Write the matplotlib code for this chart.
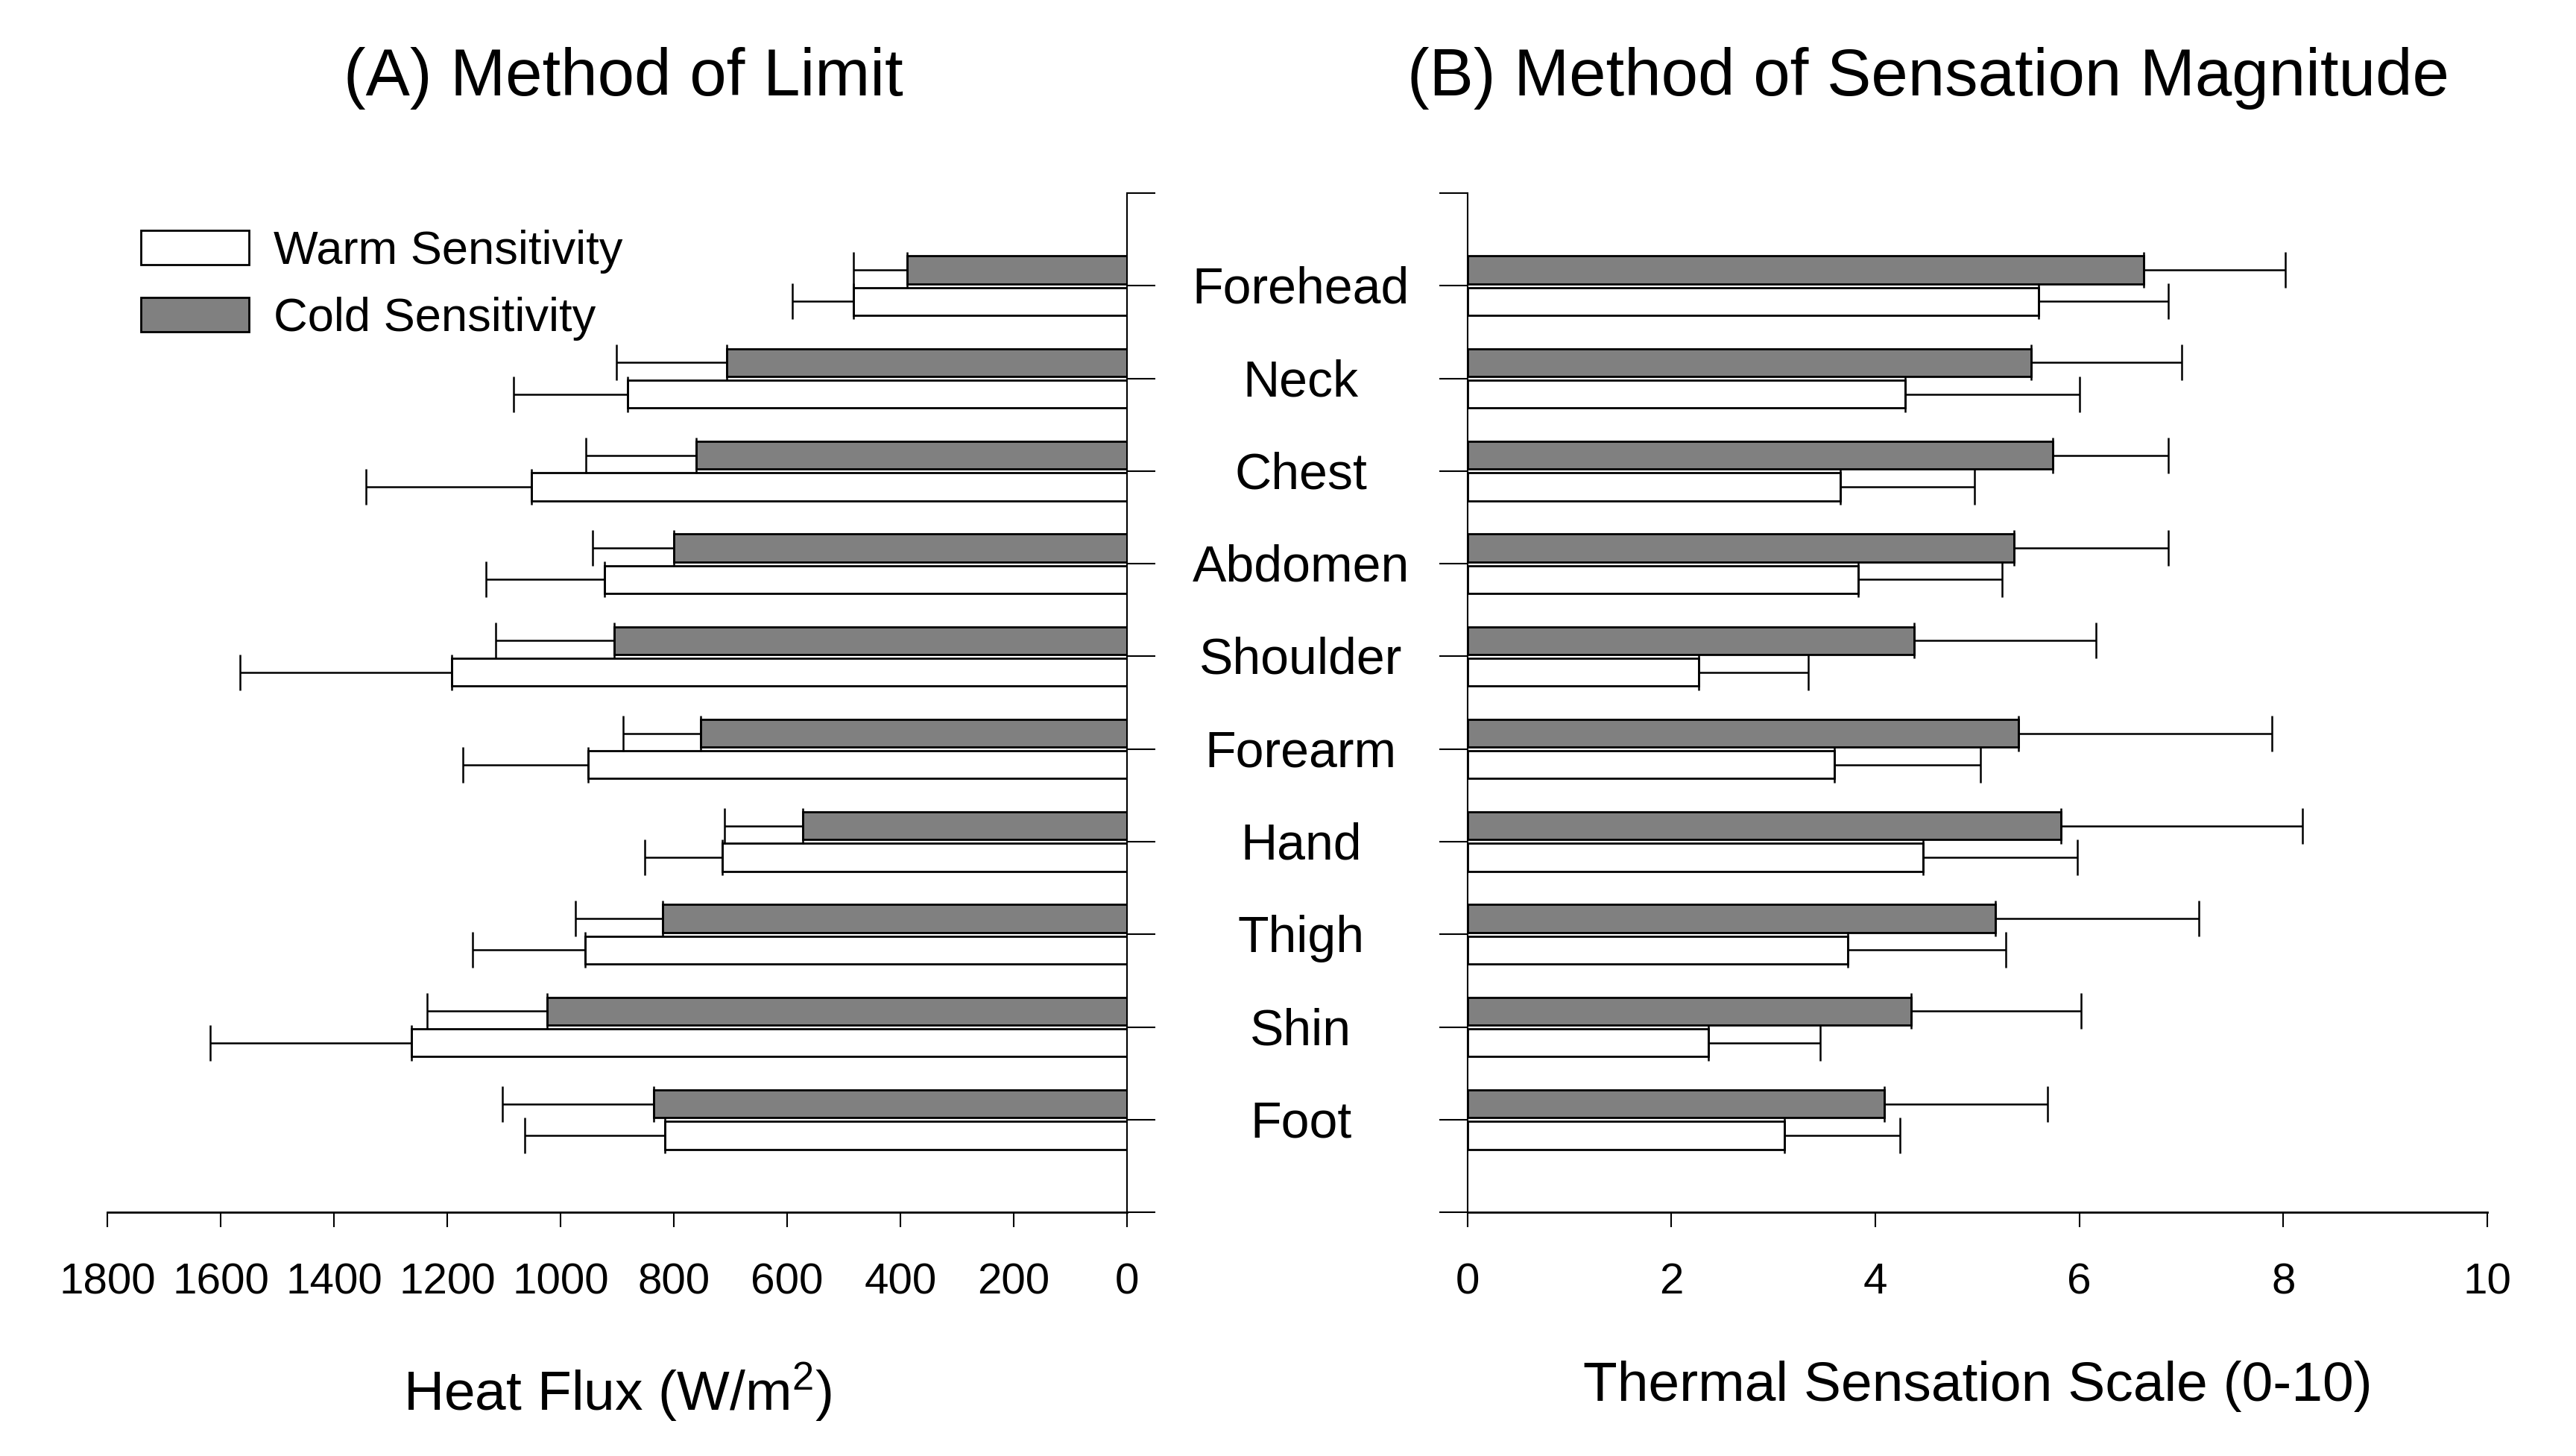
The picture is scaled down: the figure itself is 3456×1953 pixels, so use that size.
import matplotlib
matplotlib.use("Agg")
import matplotlib.pyplot as plt
import numpy as np
from matplotlib.transforms import blended_transform_factory, offset_copy

plt.rcParams['font.family'] = ['Liberation Sans', 'DejaVu Sans']

sites = ["Forehead", "Neck", "Chest", "Abdomen", "Shoulder",
         "Forearm", "Hand", "Thigh", "Shin", "Foot"]

# (A) method of limit, heat flux in W/m2 (mean and SD)
limit_warm = [483, 881, 1052, 923, 1192, 952, 715, 957, 1263, 816]
limit_warm_sd = [108, 202, 292, 209, 374, 220, 136, 199, 356, 247]
limit_cold = [388, 707, 760, 800, 905, 753, 573, 820, 1024, 836]
limit_cold_sd = [95, 194, 196, 144, 210, 136, 138, 154, 211, 267]

# (B) method of sensation magnitude, 0-10 scale (mean and SD)
mag_warm = [5.60, 4.29, 3.66, 3.83, 2.27, 3.60, 4.47, 3.73, 2.36, 3.11]
mag_warm_sd = [1.27, 1.71, 1.31, 1.41, 1.07, 1.43, 1.51, 1.55, 1.10, 1.13]
mag_cold = [6.63, 5.53, 5.74, 5.36, 4.38, 5.40, 5.82, 5.18, 4.35, 4.09]
mag_cold_sd = [1.39, 1.47, 1.13, 1.51, 1.78, 2.49, 2.37, 1.99, 1.67, 1.60]

limit_ticks = [0, 200, 400, 600, 800, 1000, 1200, 1400, 1600, 1800]
mag_ticks = [0, 2, 4, 6, 8, 10]


def draw_panel(ax, warm, warm_sd, cold, cold_sd):
    y = np.arange(1, len(sites) + 1)
    ekw = dict(ecolor='black', elinewidth=1.8, capsize=17.6, capthick=1.8)
    ax.barh(y + 0.17, warm, height=0.30, color='white', edgecolor='black',
            linewidth=2, xerr=[np.zeros(len(warm)), warm_sd], error_kw=ekw,
            label='Warm Sensitivity')
    ax.barh(y - 0.17, cold, height=0.30, color='#808080', edgecolor='black',
            linewidth=2, xerr=[np.zeros(len(cold)), cold_sd], error_kw=ekw,
            label='Cold Sensitivity')
    ax.set_ylim(len(sites) + 1, 0)
    ax.set_yticks(np.arange(0, len(sites) + 2))
    ax.set_yticklabels([])
    ax.spines['top'].set_visible(False)
    ax.spines['bottom'].set_linewidth(2.0)
    ax.tick_params(axis='y', direction='out', length=27.4, width=1.5)
    ax.tick_params(axis='x', direction='out', length=14.4, width=1.5,
                   pad=34, labelsize=42)


fig = plt.figure(figsize=(34.56, 19.53), dpi=100)
ax1 = fig.add_axes([0.0417, 0.1674, 0.3958, 0.7000])
ax2 = fig.add_axes([0.5696, 0.1674, 0.3960, 0.7000])

draw_panel(ax1, limit_warm, limit_warm_sd, limit_cold, limit_cold_sd)
ax1.set_xlim(1800, 0)
ax1.set_xticks(limit_ticks)
ax1.spines['left'].set_visible(False)
ax1.spines['right'].set_linewidth(1.5)
ax1.yaxis.set_ticks_position('right')
ax1.set_xlabel('Heat Flux (W/m$\\mathregular{^2}$)', fontsize=54, labelpad=56)

draw_panel(ax2, mag_warm, mag_warm_sd, mag_cold, mag_cold_sd)
ax2.set_xlim(0, 10)
ax2.set_xticks(mag_ticks)
ax2.spines['right'].set_visible(False)
ax2.spines['left'].set_linewidth(1.5)
ax2.yaxis.set_ticks_position('left')
ax2.set_xlabel('Thermal Sensation Scale (0-10)', fontsize=54, labelpad=56)

# body site names between the two panels
trans = blended_transform_factory(fig.transFigure, ax2.transData)
trans = offset_copy(trans, fig=fig, y=-4, units='points')
for i, name in enumerate(sites):
    ax2.text(0.505, i + 1, name, transform=trans, ha='center', va='center',
             fontsize=49)

ax1.legend(loc='upper left', bbox_to_anchor=(0.0547, 0.8424),
           bbox_transform=fig.transFigure, frameon=False, fontsize=45.5,
           borderpad=0, borderaxespad=0, handlelength=2.29, handleheight=0.74,
           handletextpad=0.53, labelspacing=0.49)

fig.text(0.2419, 0.9345, '(A) Method of Limit', ha='center', va='baseline',
         fontsize=64)
fig.text(0.7484, 0.9345, '(B) Method of Sensation Magnitude', ha='center',
         va='baseline', fontsize=64)

fig.savefig('out.png', dpi=100)
